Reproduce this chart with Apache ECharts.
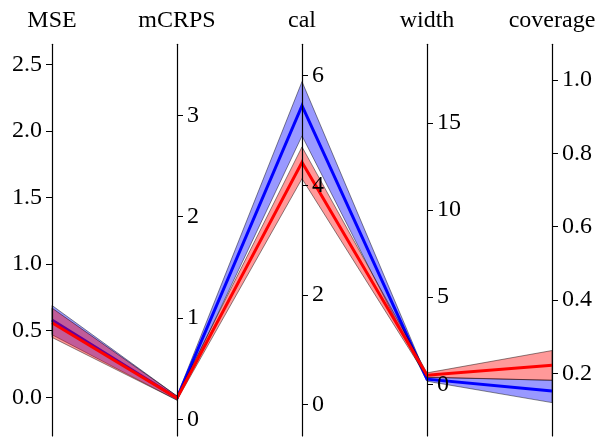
<!DOCTYPE html>
<html>
<head>
<meta charset="utf-8">
<script src="https://cdn.jsdelivr.net/npm/echarts@6/dist/echarts.min.js"></script>
<style>
html, body { margin: 0; padding: 0; background: #fff; }
#main { width: 605px; height: 446px; }
</style>
</head>
<body>
<div id="main"></div>
<script>
// metric axes
var metrics = ['MSE', 'mCRPS', 'cal', 'width', 'coverage'];
var axisMin = [-0.29, -0.164, -0.57, -2.96, 0.029];
var axisMax = [2.65, 3.70, 6.57, 19.5, 1.097];
var tickValues = [
    [0, 0.5, 1.0, 1.5, 2.0, 2.5],
    [0, 1, 2, 3],
    [0, 2, 4, 6],
    [0, 5, 10, 15],
    [0.2, 0.4, 0.6, 0.8, 1.0]
];
var tickDigits = [1, 0, 0, 0, 1];

// blue run: mean and band
var blueMean = [0.58, 0.21, 5.45, 0.30, 0.152];
var blueLow = [0.47, 0.19, 4.90, 0.18, 0.120];
var blueHigh = [0.69, 0.23, 5.89, 0.42, 0.181];

// red run: mean and band
var redMean = [0.56, 0.21, 4.42, 0.53, 0.222];
var redLow = [0.45, 0.19, 4.12, 0.40, 0.181];
var redHigh = [0.67, 0.23, 4.70, 0.66, 0.262];

var FONT = '"Liberation Serif", "Times New Roman", serif';
var gridLeft = 52, gridRight = 53;
var gridWidth = 605 - gridLeft - gridRight;
var step = gridWidth / (metrics.length - 1);

var chart = echarts.init(document.getElementById('main'), null, {renderer: 'canvas'});

var yAxes = metrics.map(function (name, i) {
    var digits = tickDigits[i];
    return {
        type: 'value',
        name: name,
        nameLocation: 'end',
        nameGap: 12,
        nameTextStyle: {fontFamily: FONT, fontSize: 24, color: '#000'},
        position: i === 0 ? 'left' : 'right',
        offset: i === 0 ? 0 : -(metrics.length - 1 - i) * step,
        min: axisMin[i],
        max: axisMax[i],
        z: 5,
        axisLine: {show: true, onZero: false, lineStyle: {color: '#000', width: 1.2}},
        axisTick: {show: true, length: 6, customValues: tickValues[i], lineStyle: {color: '#000', width: 1}},
        axisLabel: {
            customValues: tickValues[i],
            margin: 10,
            fontFamily: FONT,
            fontSize: 24,
            color: '#000',
            formatter: function (v) { return v.toFixed(digits); }
        },
        splitLine: {show: false}
    };
});

chart.setOption({
    animation: false,
    backgroundColor: '#fff',
    grid: {left: gridLeft, right: gridRight, top: 44.3, bottom: 10, outerBoundsMode: 'none'},
    xAxis: {type: 'value', min: 0, max: metrics.length - 1, show: false},
    yAxis: yAxes,
    series: []
});

var xPix = function (i) {
    return chart.convertToPixel({xAxisIndex: 0}, i);
};
var yPix = function (i, v) {
    return chart.convertToPixel({yAxisIndex: i}, v);
};

var toPoints = function (vals) {
    return vals.map(function (v, i) { return [xPix(i), yPix(i, v)]; });
};

var band = function (low, high, fill) {
    var pts = toPoints(high).concat(toPoints(low).reverse());
    return {
        type: 'polygon',
        shape: {points: pts},
        style: {fill: fill, stroke: 'rgba(0,0,0,0.45)', lineWidth: 1}
    };
};

var meanLine = function (vals, color) {
    return {
        type: 'polyline',
        shape: {points: toPoints(vals)},
        style: {fill: null, stroke: color, lineWidth: 3, lineJoin: 'miter'}
    };
};

chart.setOption({
    graphic: [
        band(blueLow, blueHigh, 'rgba(0,0,255,0.4)'),
        meanLine(blueMean, '#0000ff'),
        band(redLow, redHigh, 'rgba(255,0,0,0.4)'),
        meanLine(redMean, '#ff0000')
    ]
});
</script>
</body>
</html>
